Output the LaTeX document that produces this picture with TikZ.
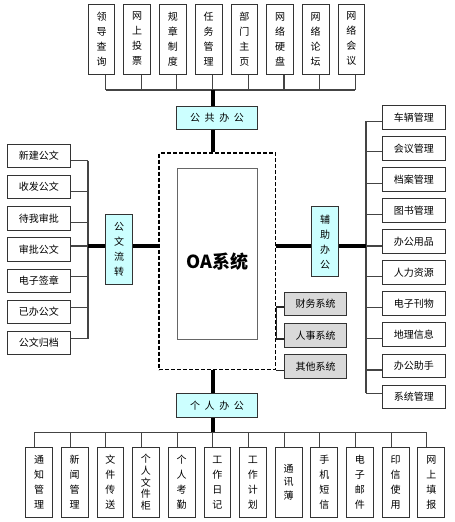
\documentclass[tikz,border=0pt]{standalone}
\usepackage{fontspec}
\newfontfamily\cjk{Noto Sans CJK SC}
\usetikzlibrary{backgrounds}
\definecolor{boxc}{HTML}{333333}
\definecolor{linec}{HTML}{444444}
\definecolor{cyanc}{HTML}{CCFFFF}
\definecolor{grayc}{HTML}{D9D9D9}
\tikzset{
  box/.style={draw=boxc, line width=0.9pt, fill=white, inner sep=0pt, align=center, font=\cjk\fontsize{10}{15}\selectfont},
  vbox/.style={box, minimum width=26.7pt, minimum height=70pt},
  hbox/.style={box, minimum width=62.5pt, minimum height=23.3pt},
  cyanbox/.style={box, fill=cyanc},
  graybox/.style={hbox, fill=grayc},
  twig/.style={draw=linec, line width=1.1pt},
  trunk/.style={draw=black, line width=4pt},
  sidelink/.style={draw=black!85, line width=1.8pt},
}
\begin{document}
\begin{tikzpicture}[x=1pt,y=-1pt]
\useasboundingbox (0,0) rectangle (455,522);
% centre
\node[draw=black, dashed, dash pattern=on 4pt off 2pt, line width=1.8pt, minimum width=116.5pt, minimum height=216.5pt, inner sep=0pt] (oa) at (217.25,261.25) {};
\node[draw=black!60, line width=0.8pt, minimum width=80pt, minimum height=171pt, inner sep=0pt] (core) at (217,253.5) {};
\node[font=\cjk\bfseries\fontsize{18}{20}\selectfont, inner sep=0pt] (oatext) at (217.5,262) {OA系统};
% hubs
\node[cyanbox, minimum width=80.6pt, minimum height=23pt] (pub) at (217,117.5) {公\hspace{4.6pt}共\hspace{4.6pt}办\hspace{4.6pt}公};
\node[cyanbox, minimum width=80.6pt, minimum height=24pt] (per) at (217,405.3) {个\hspace{4.6pt}人\hspace{4.6pt}办\hspace{4.6pt}公};
\node[cyanbox, minimum width=26.6pt, minimum height=70pt] (flow) at (119,249.3) {公\\文\\流\\转};
\node[cyanbox, minimum width=26.6pt, minimum height=70pt] (aux) at (325,241.7) {辅\\助\\办\\公};
% top boxes
\foreach \t [count=\i from 0] in {{领\\导\\查\\询},{网\\上\\投\\票},{规\\章\\制\\度},{任\\务\\管\\理},{部\\门\\主\\页},{网\\络\\硬\\盘},{网\\络\\论\\坛},{网\\络\\会\\议}}
  \node[vbox] (t\i) at ({101.5+35.7*\i},39) {\t};
% bottom boxes
\foreach \t/\s [count=\i from 0] in {{通\\知\\管\\理}/15,{新\\闻\\管\\理}/15,{文\\件\\传\\送}/15,{个\\人\\文\\件\\柜}/11.8,{个\\人\\考\\勤}/15,{工\\作\\日\\记}/15,{工\\作\\计\\划}/15,{通\\讯\\薄}/13.5,{手\\机\\短\\信}/15,{电\\子\\邮\\件}/15,{印\\信\\使\\用}/15,{网\\上\\填\\报}/15}
  \node[vbox, font=\cjk\fontsize{10}{\s}\selectfont] (b\i) at ({39+35.66*\i},482.3) {\t};
% left boxes
\foreach \t [count=\i from 0] in {新建公文,收发公文,待我审批,审批公文,电子签章,已办公文,公文归档}
  \node[hbox] (l\i) at (38.8,{156+31.15*\i}) {\t};
% right boxes
\foreach \t [count=\i from 0] in {车辆管理,会议管理,档案管理,图书管理,办公用品,人力资源,电子刊物,地理信息,办公助手,系统管理}
  \node[hbox, minimum width=62.3pt] (r\i) at (413.8,{117.3+31.04*\i}) {\t};
% grey boxes
\node[graybox] (g0) at (315.5,304) {财务系统};
\node[graybox] (g1) at (315.5,335.3) {人事系统};
\node[graybox] (g2) at (315.5,366.3) {其他系统};
% bus coordinates
\coordinate (topbus) at (0,90);
\coordinate (botbus) at (0,432.3);
\coordinate (lbus) at (88,0);
\coordinate (rbus) at (366,0);
\begin{pgfonlayer}{background}
  % top
  \foreach \i in {0,...,7}
    \draw[twig] ([xshift=4pt]t\i.south) -- ([xshift=4pt]t\i.south |- topbus);
  \draw[twig] ([xshift=4pt]t0.south |- topbus) -- ([xshift=4pt]t7.south |- topbus);
  \draw[trunk] ([xshift=4pt]t3.south |- topbus) -- ([xshift=4pt]t3.south |- oa.north);
  % bottom
  \foreach \i in {0,...,11}
    \draw[twig] ([xshift=-4.5pt]b\i.north) -- ([xshift=-4.5pt]b\i.north |- botbus);
  \draw[twig] ([xshift=-4.5pt]b0.north |- botbus) -- ([xshift=-4.5pt]b11.north |- botbus);
  \draw[trunk] ([xshift=-4pt]b5.north |- botbus) -- ([xshift=-4pt]b5.north |- oa.south);
  % left
  \foreach \i/\o in {0/-4.5,1/-4.5,2/-4,3/3.5,4/4,5/4.5,6/4}
    \draw[twig] ([yshift=\o pt]l\i.east) -- ([yshift=\o pt]l\i.east -| lbus);
  \draw[twig] ([yshift=-4.5pt]l0.east -| lbus) -- ([yshift=4pt]l6.east -| lbus);
  \draw[trunk] ([yshift=3.5pt]l3.east -| lbus) -- ([yshift=3.5pt]l3.east -| oa.west);
  % right
  \foreach \i/\o in {0/-4,1/-3.5,2/-4,3/-4,4/-4.5,5/-4,6/-4,7/-4,8/-4.4,9/3.4}
    \draw[twig] ([yshift=\o pt]r\i.west) -- ([yshift=\o pt]r\i.west -| rbus);
  \draw[twig] ([yshift=-4pt]r0.west -| rbus) -- ([yshift=3.4pt]r9.west -| rbus);
  \draw[trunk] ([yshift=-4.5pt]r4.west -| rbus) -- ([yshift=-4.5pt]r4.west -| oa.east);
  % grey links
  \draw[sidelink] ([yshift=-2.7pt]g0.west -| oa.east) -- ([yshift=-2.7pt]g0.west);
  \draw[sidelink] ([yshift=-4pt]g1.west -| oa.east) -- ([yshift=-4pt]g1.west);
  \draw[sidelink] ([yshift=-2.7pt]g0.west -| oa.east) -- ([yshift=-4pt]g1.west -| oa.east);
  \draw[sidelink] (oa.south east) -- (oa.south east -| g2.west);
\end{pgfonlayer}
\end{tikzpicture}
\end{document}
